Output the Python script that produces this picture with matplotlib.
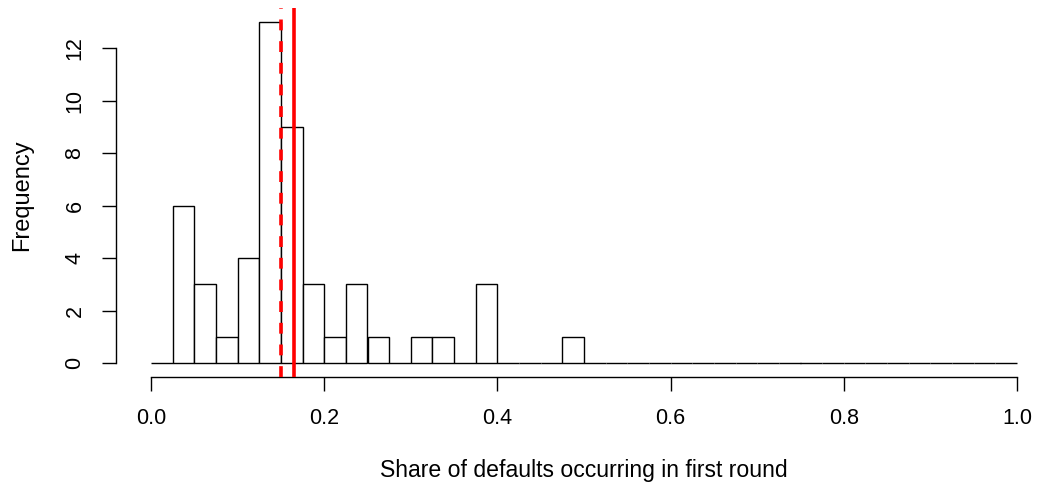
import matplotlib
matplotlib.use("Agg")
import matplotlib.pyplot as plt
import numpy as np

plt.rcParams['font.family'] = ['Liberation Sans', 'DejaVu Sans']

bin_edges = [i * 0.025 for i in range(41)]
counts = [0, 6, 3, 1, 4, 13, 9, 3, 1, 3, 1, 0, 1, 1, 0, 3, 0, 0, 0, 1] + [0] * 20
median_share = 0.150
mean_share = 0.165
x_ticks = [0.0, 0.2, 0.4, 0.6, 0.8, 1.0]
x_tick_labels = ["0.0", "0.2", "0.4", "0.6", "0.8", "1.0"]
y_ticks = [0, 2, 4, 6, 8, 10, 12]
xlabel = "Share of defaults occurring in first round"
ylabel = "Frequency"

W, H = 1038, 491
fig = plt.figure(figsize=(W / 100, H / 100), dpi=100)
left_px, right_px, top_px, bottom_px = 116, 1030, 8, 377
ax = fig.add_axes([left_px / W, 1 - bottom_px / H, (right_px - left_px) / W, (bottom_px - top_px) / H])

x0 = -35 / 866
x1 = x0 + (right_px - left_px) / 866
ax.set_xlim(x0, x1)
ax.set_ylim(-0.52, 13.52)

lefts = bin_edges[:-1]
widths = [bin_edges[i + 1] - bin_edges[i] for i in range(len(counts))]
ax.bar(lefts, counts, width=widths, align='edge', facecolor='white',
       edgecolor='black', linewidth=1.0, zorder=2)

ax.axvline(median_share, color='#FF0000', linewidth=2.6, linestyle=(0, (3, 3)), zorder=3)
ax.axvline(mean_share, color='#FF0000', linewidth=2.6, zorder=3)

for s in ['top', 'right']:
    ax.spines[s].set_visible(False)
ax.spines['bottom'].set_bounds(0, 1)
ax.spines['left'].set_bounds(0, 12)
ax.spines['bottom'].set_linewidth(1.0)
ax.spines['left'].set_linewidth(1.0)

ax.set_xticks(x_ticks)
ax.set_xticklabels(x_tick_labels)
ax.set_yticks(y_ticks)
ax.set_yticklabels([str(v) for v in y_ticks], rotation=90, va='center')
ax.tick_params(axis='both', direction='out', length=10, width=1.0, labelsize=15.5, color='black')
ax.tick_params(axis='x', pad=12)
ax.tick_params(axis='y', pad=12)

fig.text(584 / W, 1 - 470 / H, xlabel, ha='center', va='center', fontsize=16.6)
fig.text(22 / W, 1 - 195 / H, ylabel, ha='center', va='center', rotation=90, fontsize=17)

fig.savefig("out.png", dpi=100)
